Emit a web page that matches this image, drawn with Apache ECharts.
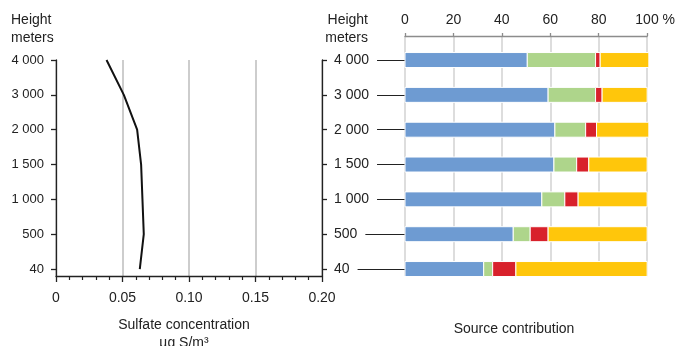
<!DOCTYPE html>
<html>
<head>
<meta charset="utf-8">
<script src="https://cdn.jsdelivr.net/npm/echarts@6/dist/echarts.min.js"></script>
<style>
  html, body { margin: 0; padding: 0; background: #fff; }
  #chart { width: 678px; height: 346px; }
</style>
</head>
<body>
<div id="chart"></div>
<script>
// Height levels, bottom to top
const heightLabels = ['40', '500', '1 000', '1 500', '2 000', '3 000', '4 000'];
const heightRows = [0, 1, 2, 3, 4, 5, 6];

// Sulfate concentration profile (µg S/m³) at each height
const sulfate = [0.063, 0.066, 0.065, 0.064, 0.061, 0.051, 0.038];

// Source contribution shares (%) at each height
const shareBlue   = [32.5, 44.7, 56.5, 61.5, 61.9, 59.1, 50.5];
const shareGreen  = [3.7, 7.0, 9.5, 9.4, 12.7, 19.6, 28.2];
const shareRed    = [9.6, 7.4, 5.5, 5.0, 4.5, 2.7, 1.9];
const shareYellow = [54.2, 40.9, 28.5, 24.1, 21.6, 18.6, 20.1];

const sourceShares = [shareBlue, shareGreen, shareRed, shareYellow];
const sourceColors = ['#6e9bd2', '#aed58b', '#d8212b', '#ffc60b'];

const FONT = '"Liberation Sans", Arial, Helvetica, sans-serif';
const INK = '#222';

// Stack the shares into [start, end, row] segments
function stackedSegments() {
  const running = heightRows.map(() => 0);
  return sourceShares.map(shares => shares.map((v, i) => {
    const start = running[i];
    running[i] += v;
    return [start, running[i], i];
  }));
}

function renderSegment(params, api) {
  const p0 = api.coord([api.value(0), api.value(2)]);
  const p1 = api.coord([api.value(1), api.value(2)]);
  const h = api.size([0, 0.43])[1];
  return {
    type: 'rect',
    shape: { x: p0[0], y: p0[1] - h / 2, width: p1[0] - p0[0], height: h },
    style: { fill: api.visual('color'), stroke: '#fff', lineWidth: 1 }
  };
}

const segments = stackedSegments();
const chart = echarts.init(document.getElementById('chart'), null, { renderer: 'canvas' });

chart.setOption({
  animation: false,
  textStyle: { fontFamily: FONT, color: INK },
  grid: [
    { left: 56, right: 356, top: 60, bottom: 70 },
    { left: 405, right: 28, top: 36, bottom: 70 }
  ],
  xAxis: [
    {
      gridIndex: 0, type: 'value', min: 0, max: 0.2, interval: 0.05,
      axisLine: { onZero: false, lineStyle: { color: INK, width: 1.3 } },
      axisTick: { length: 6, lineStyle: { color: INK, width: 1.3 } },
      minorTick: { show: true, splitNumber: 5, length: 4, lineStyle: { color: INK, width: 1.2 } },
      splitLine: { show: true, lineStyle: { color: '#bdbdbd', width: 1.5 } },
      axisLabel: {
        margin: 15, fontSize: 14, color: INK, fontFamily: FONT,
        formatter: v => (v === 0 ? '0' : v.toFixed(2))
      }
    },
    {
      gridIndex: 1, type: 'value', position: 'top', min: 0, max: 100, interval: 20,
      axisLine: { onZero: false, lineStyle: { color: '#8c8c8c', width: 1.3 } },
      axisTick: { length: 3, lineStyle: { color: '#8c8c8c', width: 1.3 } },
      splitLine: { show: true, lineStyle: { color: '#d2d2d2', width: 1.5 } },
      axisLabel: {
        margin: 9, fontSize: 14, color: INK, fontFamily: FONT,
        formatter: v => (v === 100 ? '{pad|}100 %' : String(v)),
        rich: { pad: { width: 16 } }
      }
    }
  ],
  yAxis: [
    {
      gridIndex: 0, type: 'value', min: -0.2, max: 6,
      axisLine: { show: true, onZero: false, lineStyle: { color: INK, width: 1.3 } },
      axisTick: { show: true, length: 5, customValues: heightRows, lineStyle: { color: INK, width: 1.3 } },
      splitLine: { show: false },
      axisLabel: {
        margin: 12, fontSize: 13, color: INK, fontFamily: FONT,
        customValues: heightRows,
        formatter: v => heightLabels[Math.round(v)]
      }
    },
    {
      gridIndex: 0, type: 'value', position: 'right', min: -0.2, max: 6,
      axisLine: { show: true, onZero: false, lineStyle: { color: INK, width: 1.3 } },
      axisTick: { show: true, length: 5, customValues: heightRows, lineStyle: { color: INK, width: 1.3 } },
      splitLine: { show: false },
      axisLabel: { show: false }
    },
    {
      gridIndex: 1, type: 'value', min: -0.2, max: 6.69,
      axisLine: { show: false, onZero: false },
      axisTick: { show: true, length: 70, customValues: heightRows, lineStyle: { color: INK, width: 1 } },
      splitLine: { show: false },
      axisLabel: {
        margin: 71, align: 'left', fontSize: 14, color: INK, fontFamily: FONT,
        backgroundColor: '#fff', padding: [0, 8, 0, 0],
        customValues: heightRows,
        formatter: v => heightLabels[Math.round(v)]
      }
    }
  ],
  series: [
    {
      type: 'line', xAxisIndex: 0, yAxisIndex: 0,
      data: sulfate.map((v, i) => [v, heightRows[i]]),
      showSymbol: false, symbol: 'none',
      lineStyle: { color: '#111', width: 2 },
      clip: false
    },
    ...segments.map((data, k) => ({
      type: 'custom', name: 'source' + (k + 1),
      xAxisIndex: 1, yAxisIndex: 2,
      itemStyle: { color: sourceColors[k] },
      encode: { x: [0, 1], y: 2 },
      renderItem: renderSegment,
      data: data
    }))
  ],
  graphic: [
    {
      type: 'text', left: 11, top: 11,
      style: { text: 'Height\nmeters', font: '14px ' + FONT, fill: INK, lineHeight: 18 }
    },
    {
      type: 'text', x: 368, y: 11,
      style: { text: 'Height\nmeters', font: '14px ' + FONT, fill: INK, lineHeight: 18, align: 'right', verticalAlign: 'top' }
    },
    {
      type: 'text', x: 184, y: 316,
      style: { text: 'Sulfate concentration\nµg S/m³', font: '14px ' + FONT, fill: INK, lineHeight: 18, align: 'center', verticalAlign: 'top' }
    },
    {
      type: 'text', x: 514, y: 320,
      style: { text: 'Source contribution', font: '14px ' + FONT, fill: INK, lineHeight: 18, align: 'center', verticalAlign: 'top' }
    }
  ]
});
</script>
</body>
</html>
